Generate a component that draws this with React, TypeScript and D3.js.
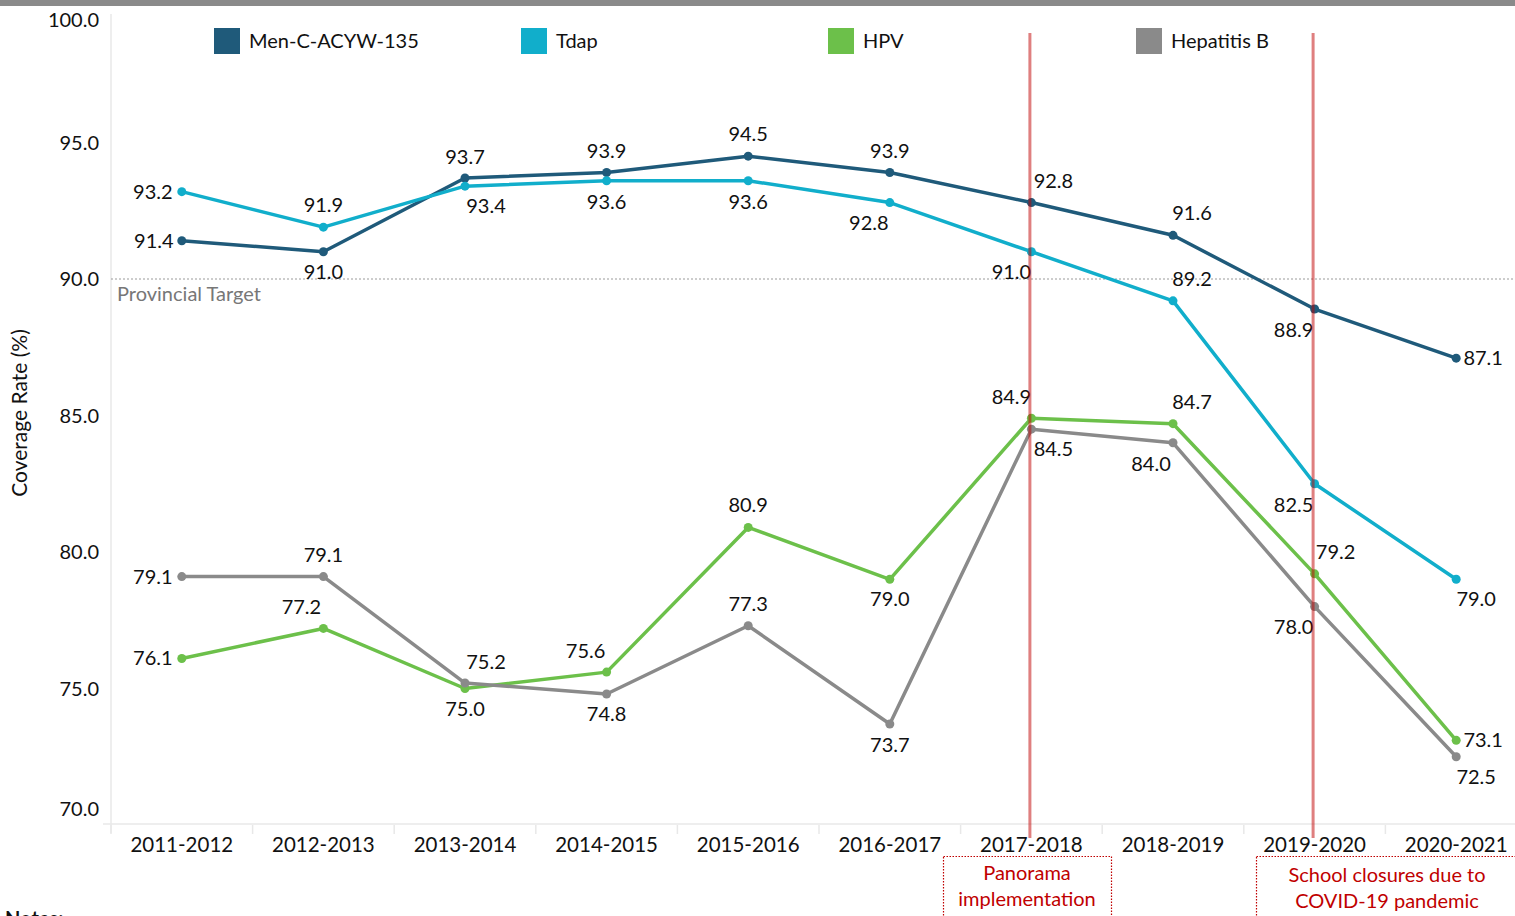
import React from "react";
import * as d3 from "d3";

const categories = ["2011-2012","2012-2013","2013-2014","2014-2015","2015-2016","2016-2017","2017-2018","2018-2019","2019-2020","2020-2021"];
const menC = [91.4, 91.0, 93.7, 93.9, 94.5, 93.9, 92.8, 91.6, 88.9, 87.1];
const tdap = [93.2, 91.9, 93.4, 93.6, 93.6, 92.8, 91.0, 89.2, 82.5, 79.0];
const hpv = [76.1, 77.2, 75.0, 75.6, 80.9, 79.0, 84.9, 84.7, 79.2, 73.1];
const hepB = [79.1, 79.1, 75.2, 74.8, 77.3, 73.7, 84.5, 84.0, 78.0, 72.5];
const yTicks = [70, 75, 80, 85, 90, 95, 100];
const target = 90;
const eventCategories = ["2017-2018", "2019-2020"];

// label offsets (styling)
const offMen = [[-28,0],[0,20],[0,-21],[0,-22],[0,-22],[0,-22],[22,-22],[19,-22],[-21,21],[27,0]];
const offTdap = [[-29,0],[0,-22],[21,20],[0,21],[0,21],[-21,20],[-20,20],[19,-22],[-21,21],[20,20]];
const offHpv = [[-29,0],[-22,-21],[0,20],[-21,-21],[0,-22],[0,20],[-20,-21],[19,-22],[21,-22],[27,0]];
const offHep = [[-29,0],[0,-22],[21,-21],[0,20],[0,-22],[0,21],[22,20],[-22,21],[-21,20],[20,20]];

const series = [
  { name: "Men-C-ACYW-135", values: menC, color: "#1f5a7a", off: offMen },
  { name: "Tdap", values: tdap, color: "#11aecb", off: offTdap },
  { name: "HPV", values: hpv, color: "#6cc04a", off: offHpv },
  { name: "Hepatitis B", values: hepB, color: "#8a8a8a", off: offHep },
];

const FONT = "Lato, 'Open Sans', sans-serif";

export default function App() {
  const W = 1515, H = 916;
  const left = 111, right = 1527, top = 6, bottom = 825;
  const x = d3.scaleBand().domain(categories).range([left, right]);
  const y = d3.scaleLinear().domain([70, 100]).range([bottom, top]);
  const cx = (c: string) => (x(c) as number) + x.bandwidth() / 2;
  const line = d3.line<number>().x((_, i) => cx(categories[i])).y((v) => y(v));
  const legendX = [214, 521, 828, 1136];

  return (
    <svg width={W} height={H} style={{ position: "absolute", left: 0, top: 0, background: "#fff" }} fontFamily={FONT}>
      <rect x={0} y={0} width={W} height={6} fill="#8a8a8a" />
      {/* axes */}
      <line x1={left} x2={left} y1={top + 8} y2={bottom + 8} stroke="#e8e8e8" strokeWidth={1.5} />
      <line x1={left - 8} x2={W} y1={bottom - 1} y2={bottom - 1} stroke="#e8e8e8" strokeWidth={1.5} />
      {categories.map((c) => (
        <line key={"s" + c} x1={x(c)} x2={x(c)} y1={bottom} y2={bottom + 9} stroke="#e8e8e8" strokeWidth={1.5} />
      ))}
      {yTicks.map((t) => {
        let ty = y(t);
        if (t === 100) ty = 20;
        if (t === 70) ty = 809;
        return (
          <text key={t} x={99} y={ty} dy="0.35em" textAnchor="end" fontSize={20} fill="#111">{t.toFixed(1)}</text>
        );
      })}
      {categories.map((c) => (
        <text key={c} x={cx(c)} y={845} dy="0.35em" textAnchor="middle" fontSize={20.5} fill="#111">{c}</text>
      ))}
      <text transform={`translate(27,413) rotate(-90)`} textAnchor="middle" fontSize={21} fill="#111">Coverage Rate (%)</text>
      {/* target */}
      <line x1={left} x2={W} y1={y(target)} y2={y(target)} stroke="#9a9a9a" strokeWidth={1} strokeDasharray="2,2" />
      <text x={117} y={294} dy="0.35em" fontSize={20} fill="#777">Provincial Target</text>
      {/* legend */}
      {series.map((s, i) => (
        <g key={"lg" + s.name}>
          <rect x={legendX[i]} y={28} width={26} height={26} fill={s.color} />
          <text x={legendX[i] + 35} y={41} dy="0.35em" fontSize={20} fill="#111">{s.name}</text>
        </g>
      ))}
      {/* series */}
      {series.map((s) => (
        <g key={s.name}>
          <path d={line(s.values) as string} fill="none" stroke={s.color} strokeWidth={3.5} strokeLinejoin="round" />
          {s.values.map((v, i) => (
            <circle key={i} cx={cx(categories[i])} cy={y(v)} r={4.5} fill={s.color} />
          ))}
        </g>
      ))}
      {series.map((s) => (
        <g key={"lb" + s.name}>
          {s.values.map((v, i) => (
            <text key={i} x={cx(categories[i]) + s.off[i][0]} y={y(v) + s.off[i][1]} dy="0.35em" textAnchor="middle" fontSize={20} fill="#111">{v.toFixed(1)}</text>
          ))}
        </g>
      ))}
      {/* event lines */}
      {eventCategories.map((c) => (
        <line key={"ev" + c} x1={cx(c) - 1.5} x2={cx(c) - 1.5} y1={33} y2={838} stroke="rgba(192,0,0,0.5)" strokeWidth={3} />
      ))}
      {/* annotation boxes */}
      <rect x={943.5} y={856.5} width={168} height={70} fill="none" stroke="#c00000" strokeWidth={1.2} strokeDasharray="1.5,1.5" />
      <text x={1027} y={873} dy="0.35em" textAnchor="middle" fontSize={20} fill="#c00000">Panorama</text>
      <text x={1027} y={899} dy="0.35em" textAnchor="middle" fontSize={20} fill="#c00000">implementation</text>
      <rect x={1256.5} y={856.5} width={264} height={70} fill="none" stroke="#c00000" strokeWidth={1.2} strokeDasharray="1.5,1.5" />
      <text x={1387} y={875} dy="0.35em" textAnchor="middle" fontSize={20} fill="#c00000">School closures due to</text>
      <text x={1387} y={901} dy="0.35em" textAnchor="middle" fontSize={20} fill="#c00000">COVID-19 pandemic</text>
      <text x={5} y={926} fontSize={20} fontWeight="bold" fill="#111">Notes:</text>
    </svg>
  );
}
